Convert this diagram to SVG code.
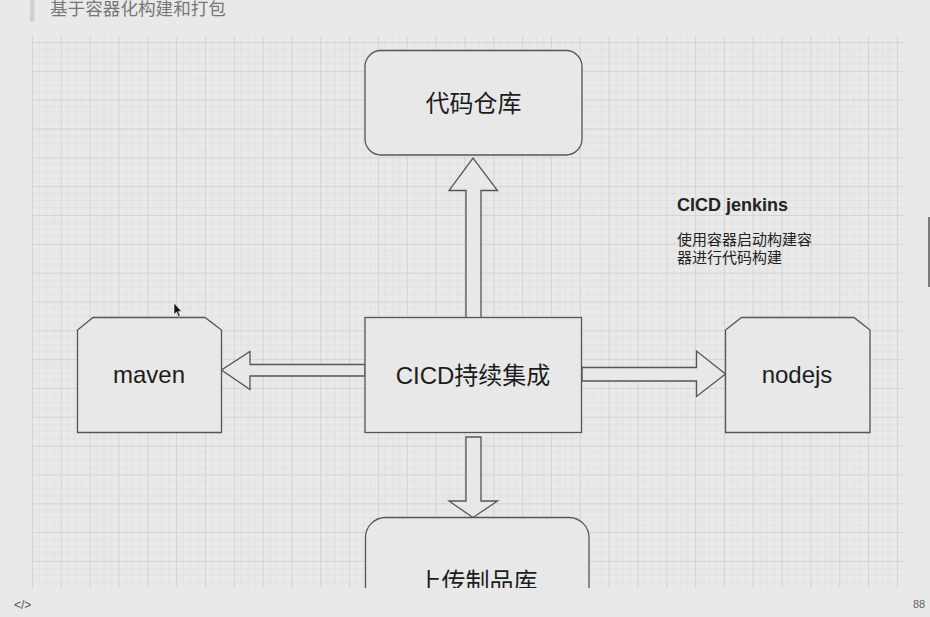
<svg xmlns="http://www.w3.org/2000/svg" width="930" height="617" viewBox="0 0 930 617">
  <style>
    .shape { fill: #e8e8e8; stroke: #555555; stroke-width: 1.3; }
    .arrow { fill: #e8e8e8; stroke: #555555; stroke-width: 1.3; stroke-linejoin: miter; }
    .label { font-family: "Liberation Sans", "Noto Sans CJK SC", sans-serif; font-size: 24px; fill: #1c1c1c; text-anchor: middle; }
    .note { font-family: "Liberation Sans", "Noto Sans CJK SC", sans-serif; fill: #222222; }
    .ui { font-family: "Liberation Sans", "Noto Sans CJK SC", sans-serif; }
  </style>
  <defs>
    <pattern id="grid" patternUnits="userSpaceOnUse" x="32" y="13.17" width="28.83" height="28.83">
      <rect width="28.83" height="28.83" fill="#e9e9e9"/>
      <path d="M7.21 0V28.83M14.42 0V28.83M21.62 0V28.83M0 7.21H28.83M0 14.42H28.83M0 21.62H28.83" stroke="#e1e1e1" stroke-width="1" fill="none"/>
      <path d="M0.5 0V28.83M0 0.5H28.83" stroke="#d3d3d3" stroke-width="1" fill="none"/>
    </pattern>
    <clipPath id="canvasClip">
      <rect x="32" y="36" width="871" height="552"/>
    </clipPath>
  </defs>

  <rect x="0" y="0" width="930" height="617" fill="#e9e9e9"/>

  <!-- header -->
  <rect x="30" y="0" width="4.5" height="21.5" fill="#d0d0d0"/>
  <text class="ui" x="50" y="15" font-size="17.6" fill="#777777">基于容器化构建和打包</text>

  <g clip-path="url(#canvasClip)">
    <rect x="32" y="36" width="871" height="552" fill="url(#grid)"/>

    <g id="connectors">
      <!-- up arrow: CICD -> 代码仓库 -->
      <polygon class="arrow" points="466,318 466,190.5 449,190.5 473,158 497.5,190.5 481,190.5 481,318"/>
      <!-- left arrow: CICD -> maven -->
      <polygon class="arrow" points="365,364.5 250,364.5 250,351.5 221.5,370 250,389.5 250,376 365,376"/>
      <!-- right arrow: CICD -> nodejs -->
      <polygon class="arrow" points="582,367.5 696.5,367.5 696.5,351 725.5,374 696.5,396.5 696.5,381 582,381"/>
      <!-- down arrow: CICD -> 上传制品库 -->
      <polygon class="arrow" points="466,437 481,437 481,501 497.5,501 473,517.5 449,501 466,501"/>
    </g>

    <g id="node-repo">
      <rect class="shape" x="365" y="50.5" width="217" height="104.5" rx="16" ry="16"/>
      <text class="label" x="473.5" y="112">代码仓库</text>
    </g>

    <g id="node-cicd">
      <rect class="shape" x="365" y="317.5" width="216.5" height="115"/>
      <text class="label" x="473" y="384">CICD持续集成</text>
    </g>

    <g id="node-maven">
      <polygon class="shape" points="93,317.5 205,317.5 221.5,330 221.5,432.5 77.5,432.5 77.5,330"/>
      <text class="label" x="149" y="383">maven</text>
    </g>

    <g id="node-nodejs">
      <polygon class="shape" points="741.5,317.5 854,317.5 870,330 870,432.5 725.5,432.5 725.5,330"/>
      <text class="label" x="797" y="383">nodejs</text>
    </g>

    <g id="node-artifact">
      <rect class="shape" x="365.5" y="517.5" width="223.5" height="120" rx="20" ry="20"/>
      <text class="label" x="477.5" y="590">上传制品库</text>
    </g>

    <g id="note-jenkins">
      <text class="note" x="677" y="211" font-size="18" font-weight="bold" fill="#111111">CICD jenkins</text>
      <text class="note" x="677" y="244.5" font-size="15" fill="#333333">使用容器启动构建容</text>
      <text class="note" x="677" y="262.5" font-size="15" fill="#333333">器进行代码构建</text>
    </g>
  </g>

  <!-- mouse cursor -->
  <polygon points="174,303 174,314.5 176.6,312 178.6,317 180.3,316.3 178.4,311.4 181.6,311.4" fill="#111111" stroke="#ffffff" stroke-width="0.6"/>

  <!-- right scrollbar indicator -->
  <rect x="928" y="217" width="2" height="70" fill="#7a7a7a"/>

  <!-- bottom bar -->
  <text class="ui" x="14" y="609" font-size="12" fill="#555555">&lt;/&gt;</text>
  <text class="ui" x="913" y="608" font-size="11" fill="#666666">88</text>
</svg>
